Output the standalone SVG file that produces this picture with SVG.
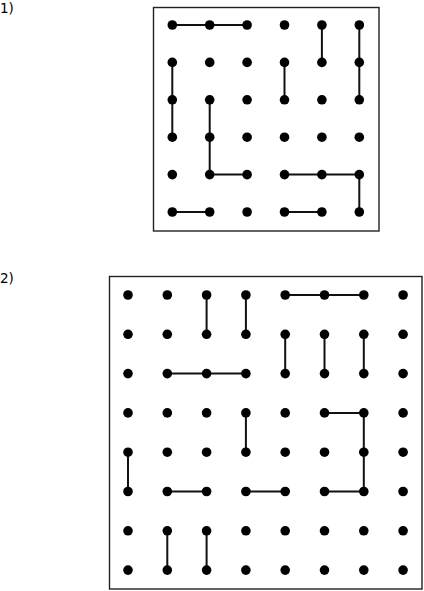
<svg xmlns="http://www.w3.org/2000/svg" width="424" height="591" viewBox="0 0 424 591">
<style>
.lbl{font-family:"DejaVu Sans",sans-serif;font-size:13.5px;fill:#000}
.box{fill:none;stroke:#222;stroke-width:1.4}
.d{fill:#000}
</style>
<defs>
<circle id="dot" r="4.8" class="d"/>
</defs>
<rect width="424" height="591" fill="#fff"/>
<g id="label1"><text class="lbl" x="0" y="13">1)</text></g>
<g id="label2"><text class="lbl" x="0" y="283">2)</text></g>
<g id="box1"><rect class="box" x="153.5" y="7.5" width="225.5" height="223.5"/></g>
<g id="box2"><rect class="box" x="109.5" y="276.5" width="312.5" height="312.5"/></g>
<g id="connectors1" transform="translate(172.3,25) scale(37.4)">
<g style="stroke:#111;stroke-width:0.0535;fill:none">
<path d="M0,0H2"/>
<path d="M4,0V1"/>
<path d="M5,0V2"/>
<path d="M0,1V3"/>
<path d="M3,1V2"/>
<path d="M1,2V4H2"/>
<path d="M3,4H5V5"/>
<path d="M0,5H1"/>
<path d="M3,5H4"/>
</g>
</g>
<g id="connectors2" transform="translate(128,295) scale(39.3)">
<g style="stroke:#111;stroke-width:0.051;fill:none">
<path d="M2,0V1"/>
<path d="M3,0V1"/>
<path d="M4,0H6"/>
<path d="M4,1V2"/>
<path d="M5,1V2"/>
<path d="M6,1V2"/>
<path d="M1,2H3"/>
<path d="M3,3V4"/>
<path d="M5,3H6V5H5"/>
<path d="M0,4V5"/>
<path d="M1,5H2"/>
<path d="M3,5H4"/>
<path d="M1,6V7"/>
<path d="M2,6V7"/>
</g>
</g>
<g id="grid1">
<use href="#dot" x="172.3" y="25"/><use href="#dot" x="209.7" y="25"/><use href="#dot" x="247.1" y="25"/><use href="#dot" x="284.5" y="25"/><use href="#dot" x="321.9" y="25"/><use href="#dot" x="359.3" y="25"/>
<use href="#dot" x="172.3" y="62.4"/><use href="#dot" x="209.7" y="62.4"/><use href="#dot" x="247.1" y="62.4"/><use href="#dot" x="284.5" y="62.4"/><use href="#dot" x="321.9" y="62.4"/><use href="#dot" x="359.3" y="62.4"/>
<use href="#dot" x="172.3" y="99.8"/><use href="#dot" x="209.7" y="99.8"/><use href="#dot" x="247.1" y="99.8"/><use href="#dot" x="284.5" y="99.8"/><use href="#dot" x="321.9" y="99.8"/><use href="#dot" x="359.3" y="99.8"/>
<use href="#dot" x="172.3" y="137.2"/><use href="#dot" x="209.7" y="137.2"/><use href="#dot" x="247.1" y="137.2"/><use href="#dot" x="284.5" y="137.2"/><use href="#dot" x="321.9" y="137.2"/><use href="#dot" x="359.3" y="137.2"/>
<use href="#dot" x="172.3" y="174.6"/><use href="#dot" x="209.7" y="174.6"/><use href="#dot" x="247.1" y="174.6"/><use href="#dot" x="284.5" y="174.6"/><use href="#dot" x="321.9" y="174.6"/><use href="#dot" x="359.3" y="174.6"/>
<use href="#dot" x="172.3" y="212"/><use href="#dot" x="209.7" y="212"/><use href="#dot" x="247.1" y="212"/><use href="#dot" x="284.5" y="212"/><use href="#dot" x="321.9" y="212"/><use href="#dot" x="359.3" y="212"/>
</g>
<g id="grid2">
<use href="#dot" x="128" y="295"/><use href="#dot" x="167.3" y="295"/><use href="#dot" x="206.6" y="295"/><use href="#dot" x="245.9" y="295"/><use href="#dot" x="285.2" y="295"/><use href="#dot" x="324.5" y="295"/><use href="#dot" x="363.8" y="295"/><use href="#dot" x="403.1" y="295"/>
<use href="#dot" x="128" y="334.3"/><use href="#dot" x="167.3" y="334.3"/><use href="#dot" x="206.6" y="334.3"/><use href="#dot" x="245.9" y="334.3"/><use href="#dot" x="285.2" y="334.3"/><use href="#dot" x="324.5" y="334.3"/><use href="#dot" x="363.8" y="334.3"/><use href="#dot" x="403.1" y="334.3"/>
<use href="#dot" x="128" y="373.6"/><use href="#dot" x="167.3" y="373.6"/><use href="#dot" x="206.6" y="373.6"/><use href="#dot" x="245.9" y="373.6"/><use href="#dot" x="285.2" y="373.6"/><use href="#dot" x="324.5" y="373.6"/><use href="#dot" x="363.8" y="373.6"/><use href="#dot" x="403.1" y="373.6"/>
<use href="#dot" x="128" y="412.9"/><use href="#dot" x="167.3" y="412.9"/><use href="#dot" x="206.6" y="412.9"/><use href="#dot" x="245.9" y="412.9"/><use href="#dot" x="285.2" y="412.9"/><use href="#dot" x="324.5" y="412.9"/><use href="#dot" x="363.8" y="412.9"/><use href="#dot" x="403.1" y="412.9"/>
<use href="#dot" x="128" y="452.2"/><use href="#dot" x="167.3" y="452.2"/><use href="#dot" x="206.6" y="452.2"/><use href="#dot" x="245.9" y="452.2"/><use href="#dot" x="285.2" y="452.2"/><use href="#dot" x="324.5" y="452.2"/><use href="#dot" x="363.8" y="452.2"/><use href="#dot" x="403.1" y="452.2"/>
<use href="#dot" x="128" y="491.5"/><use href="#dot" x="167.3" y="491.5"/><use href="#dot" x="206.6" y="491.5"/><use href="#dot" x="245.9" y="491.5"/><use href="#dot" x="285.2" y="491.5"/><use href="#dot" x="324.5" y="491.5"/><use href="#dot" x="363.8" y="491.5"/><use href="#dot" x="403.1" y="491.5"/>
<use href="#dot" x="128" y="530.8"/><use href="#dot" x="167.3" y="530.8"/><use href="#dot" x="206.6" y="530.8"/><use href="#dot" x="245.9" y="530.8"/><use href="#dot" x="285.2" y="530.8"/><use href="#dot" x="324.5" y="530.8"/><use href="#dot" x="363.8" y="530.8"/><use href="#dot" x="403.1" y="530.8"/>
<use href="#dot" x="128" y="570.1"/><use href="#dot" x="167.3" y="570.1"/><use href="#dot" x="206.6" y="570.1"/><use href="#dot" x="245.9" y="570.1"/><use href="#dot" x="285.2" y="570.1"/><use href="#dot" x="324.5" y="570.1"/><use href="#dot" x="363.8" y="570.1"/><use href="#dot" x="403.1" y="570.1"/>
</g>
</svg>
